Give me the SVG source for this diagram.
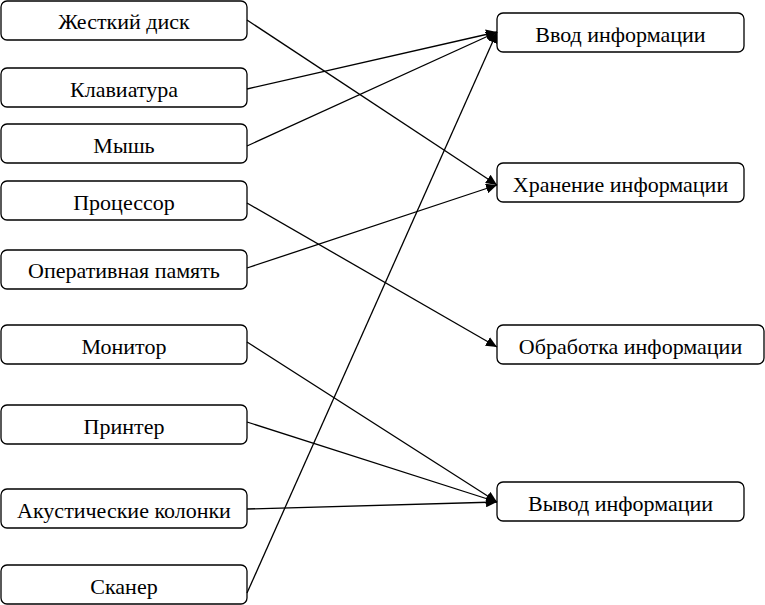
<svg xmlns="http://www.w3.org/2000/svg" width="765" height="605" viewBox="0 0 765 605">
<defs>
<marker id="arr" markerUnits="userSpaceOnUse" markerWidth="12" markerHeight="10" refX="11" refY="5" orient="auto">
<path d="M0,0 L11,5 L0,10 Z" fill="#000"/>
</marker>
<style>
rect{fill:#fff;stroke:#000;stroke-width:1.3}
text{font-family:"Liberation Serif","Times New Roman",serif;font-size:22px;fill:#000;text-anchor:middle}
.c line{stroke:#000;stroke-width:1.3;marker-end:url(#arr)}
</style>
</defs>
<rect x="0" y="0" width="765" height="605" style="stroke:none"/>
<g id="n1"><rect x="1" y="1" width="246" height="39" rx="6"/><text x="124" y="29">Жесткий диск</text></g>
<g id="n2"><rect x="1" y="68" width="246" height="39" rx="6"/><text x="124" y="97">Клавиатура</text></g>
<g id="n3"><rect x="1" y="124" width="246" height="39" rx="6"/><text x="124" y="153">Мышь</text></g>
<g id="n4"><rect x="1" y="181" width="246" height="39" rx="6"/><text x="124" y="210">Процессор</text></g>
<g id="n5"><rect x="1" y="250" width="246" height="39" rx="6"/><text x="124" y="278">Оперативная память</text></g>
<g id="n6"><rect x="1" y="325" width="246" height="39" rx="6"/><text x="124" y="354">Монитор</text></g>
<g id="n7"><rect x="1" y="405" width="246" height="39" rx="6"/><text x="124" y="434">Принтер</text></g>
<g id="n8"><rect x="1" y="489" width="246" height="39" rx="6"/><text x="124" y="518">Акустические колонки</text></g>
<g id="n9"><rect x="1" y="565" width="246" height="39" rx="6"/><text x="124" y="594">Сканер</text></g>
<g id="r1"><rect x="497" y="13" width="247" height="39" rx="6"/><text x="620.5" y="42">Ввод информации</text></g>
<g id="r2"><rect x="497" y="163" width="247" height="39" rx="6"/><text x="620.5" y="192">Хранение информации</text></g>
<g id="r3"><rect x="497" y="325" width="267" height="39" rx="6"/><text x="630.5" y="354">Обработка информации</text></g>
<g id="r4"><rect x="497" y="482" width="247" height="39" rx="6"/><text x="620.5" y="511">Вывод информации</text></g>
<g class="c" id="connectors">
<line x1="247" y1="20" x2="497" y2="185"/>
<line x1="247" y1="89" x2="497" y2="32"/>
<line x1="247" y1="146" x2="497" y2="32"/>
<line x1="247" y1="203" x2="497" y2="347"/>
<line x1="247" y1="268" x2="497" y2="185"/>
<line x1="247" y1="342" x2="497" y2="502"/>
<line x1="247" y1="422" x2="497" y2="502"/>
<line x1="247" y1="509" x2="497" y2="502"/>
<line x1="247" y1="593" x2="497" y2="32"/>
</g>
</svg>
